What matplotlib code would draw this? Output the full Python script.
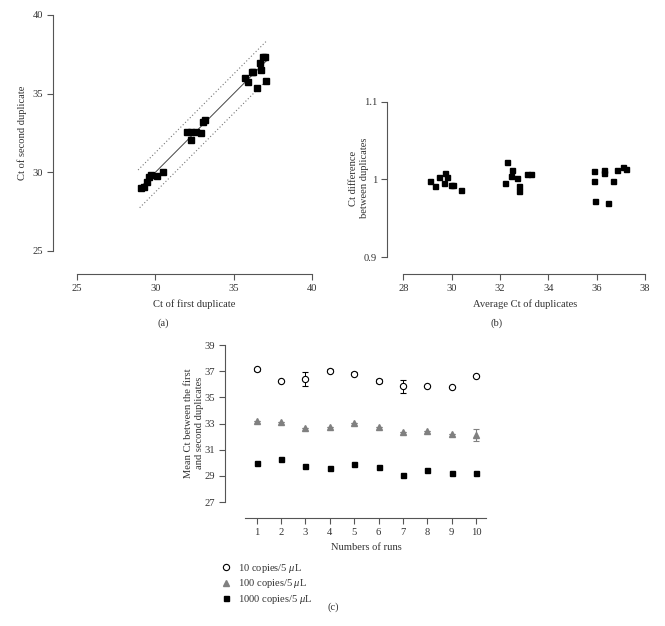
import numpy as np
import matplotlib
matplotlib.use('Agg')
import matplotlib.pyplot as plt
from matplotlib.lines import Line2D

plt.rcParams['font.family'] = ['Liberation Serif', 'DejaVu Serif']
plt.rcParams['mathtext.fontset'] = 'custom'
plt.rcParams['mathtext.it'] = 'Liberation Serif:italic'
plt.rcParams['mathtext.rm'] = 'Liberation Serif'

# (a) Ct of first vs second duplicate
first_dup = [29.08, 29.3, 29.45, 29.6, 29.7, 30.1, 30.5, 32.0, 32.3, 32.3, 32.6, 32.9,
             33.06, 33.2, 35.7, 35.9, 36.15, 36.25, 36.47, 36.72, 36.68, 36.9, 37.0, 37.06]
second_dup = [29.0, 29.07, 29.4, 29.7, 29.8, 29.76, 30.04, 32.58, 32.58, 32.05, 32.58, 32.5,
              33.2, 33.3, 35.97, 35.76, 36.4, 36.4, 35.34, 36.5, 36.97, 37.35, 37.35, 35.8]
fit_x = [29.0, 37.2]
band = 1.25

# (b) Ct difference vs average Ct
avg_ct = [29.10, 29.31, 29.48, 29.70, 29.72, 29.79, 29.96, 30.07, 30.37,
          32.21, 32.30, 32.48, 32.46, 32.69, 32.80, 32.80, 33.10, 33.27,
          35.90, 35.90, 35.93, 36.30, 36.30, 36.46, 36.66, 36.83, 37.10, 37.20]
ct_diff = [0.9987, 0.9922, 1.0026, 0.9957, 1.0078, 1.0034, 0.9931, 0.9927, 0.9871,
           0.9953, 1.0224, 1.0121, 1.0043, 1.0022, 0.9914, 0.9858, 1.0069, 1.0065,
           1.0108, 0.9987, 0.9728, 1.0116, 1.0078, 0.9694, 0.9983, 1.0121, 1.0159, 1.0134]

# (c) mean Ct per run
runs = np.arange(1, 11)
mean10 = [37.13, 36.28, 36.41, 37.05, 36.80, 36.26, 35.85, 35.85, 35.80, 36.62]
err10 = [0.15, 0.0, 0.55, 0.15, 0.1, 0.15, 0.5, 0.0, 0.0, 0.0]
mean100 = [33.22, 33.10, 32.67, 32.77, 33.05, 32.77, 32.38, 32.44, 32.18, 32.13]
err100 = [0, 0, 0, 0, 0, 0, 0, 0, 0, 0.45]
mean1000 = [29.97, 30.28, 29.74, 29.62, 29.92, 29.67, 29.05, 29.44, 29.23, 29.23]
series_labels = ['10 copies/5 $\\mu$L', '100 copies/5 $\\mu$L', '1000 copies/5 $\\mu$L']

W, H = 665, 626
TXT = '#333333'
AX = '#555555'
FS = 7.6


def px_axes(x0, y0, x1, y1):
    return fig.add_axes([x0 / W, 1 - y1 / H, (x1 - x0) / W, (y1 - y0) / H])


def style(ax, left_out, bottom_out):
    for s in ['top', 'right']:
        ax.spines[s].set_visible(False)
    ax.spines['left'].set_position(('outward', left_out * 0.72))
    ax.spines['bottom'].set_position(('outward', bottom_out * 0.72))
    for s in ['left', 'bottom']:
        ax.spines[s].set_color(AX)
        ax.spines[s].set_linewidth(0.8)
    ax.tick_params(length=4, width=0.8, color=AX, labelsize=FS, labelcolor=TXT, pad=3)


def ftext(x, y, s, **kw):
    fig.text(x / W, 1 - y / H, s, ha='center', va='center', fontsize=FS, color=TXT, **kw)


fig = plt.figure(figsize=(W / 100, H / 100), dpi=100)

# ---- (a)
ax = px_axes(77, 15, 312, 251)
ax.set_xlim(25, 40)
ax.set_ylim(25, 40)
style(ax, 24, 23)
ax.set_xticks([25, 30, 35, 40])
ax.set_yticks([25, 30, 35, 40])
fx = np.array(fit_x)
ax.plot(fx, fx, color='#444444', lw=0.7)
ax.plot(fx - 0.1, fx - 0.1 + band, color='#777777', lw=0.8, ls=(0, (1, 2)))
ax.plot(fx, fx - band, color='#777777', lw=0.8, ls=(0, (1, 2)))
ax.plot(first_dup, second_dup, 's', color='black', ms=5, clip_on=False)
ftext(22, 133, 'Ct of second duplicate', rotation=90)
ftext(194, 304, 'Ct of first duplicate')
ftext(163, 323, '(a)')

# ---- (b)
ax = px_axes(403.3, 101.7, 645, 257.3)
ax.set_xlim(28, 38)
ax.set_ylim(0.9, 1.1)
style(ax, 16.6, 16.7)
ax.set_xticks([28, 30, 32, 34, 36, 38])
ax.set_yticks([0.9, 1.0, 1.1])
ax.set_yticklabels(['0.9', '1', '1.1'])
ax.plot(avg_ct, ct_diff, 's', color='black', ms=3.6)
ftext(359, 178, 'Ct difference\nbetween duplicates', rotation=90, linespacing=1.2)
ftext(525, 304, 'Average Ct of duplicates')
ftext(497, 323, '(b)')

# ---- (c)
ax = px_axes(245, 345, 486, 502)
ax.set_xlim(0.52, 10.41)
ax.set_ylim(27, 39)
style(ax, 20, 16)
ax.set_xticks(runs)
ax.set_yticks([27, 29, 31, 33, 35, 37, 39])
ax.errorbar(runs, mean10, yerr=err10, fmt='o', mfc='white', mec='black', mew=0.8,
            ms=4.5, ecolor='black', elinewidth=0.7, capsize=2.5, capthick=0.7, clip_on=False)
ax.errorbar(runs, mean100, yerr=err100, fmt='^', color='#808080', ms=5,
            ecolor='#808080', elinewidth=0.8, capsize=2.5, capthick=0.8, clip_on=False)
ax.plot(runs, mean1000, 's', color='black', ms=3.6)
ftext(194, 423, 'Mean Ct between the first\nand second duplicates', rotation=90, linespacing=1.15)
ftext(366, 547, 'Numbers of runs')
ftext(333, 607, '(c)')

handles = [
    Line2D([], [], ls='none', marker='o', mfc='white', mec='black', mew=0.8, ms=4.5),
    Line2D([], [], ls='none', marker='^', color='#808080', ms=5),
    Line2D([], [], ls='none', marker='s', color='black', ms=3.6),
]
leg = fig.legend(handles, series_labels, loc='upper left', bbox_to_anchor=(221 / W, 1 - 562 / H),
                 frameon=False, fontsize=FS, handlelength=0.9, handletextpad=0.7,
                 labelspacing=0.22, borderaxespad=0, borderpad=0)
for t in leg.get_texts():
    t.set_color(TXT)

fig.savefig('out.png', dpi=100)
